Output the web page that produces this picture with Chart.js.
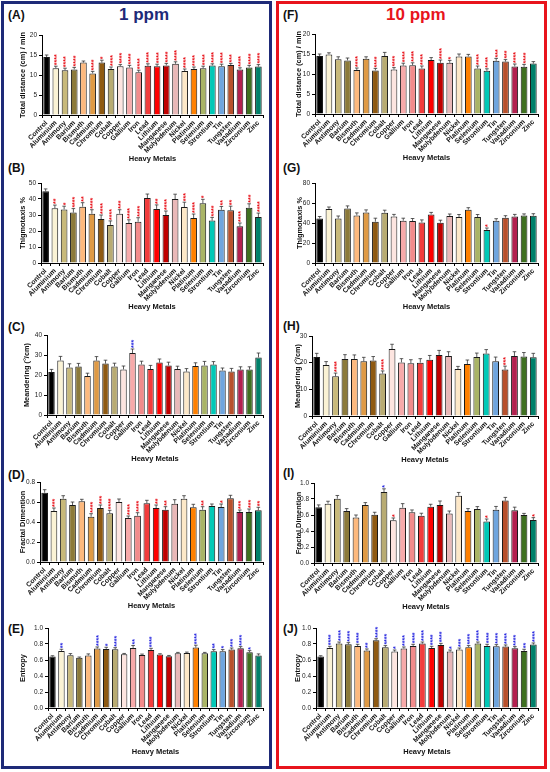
<!DOCTYPE html>
<html>
<head>
<meta charset="utf-8">
<script src="https://cdn.jsdelivr.net/npm/chart.js@4.4.0/dist/chart.umd.min.js"></script>
<style>
  body { margin: 0; width: 550px; height: 772px; position: relative; background: #fff; font-family: "Liberation Sans", Arial, sans-serif; overflow: hidden; }
  .box { position: absolute; top: 1px; height: 762px; width: 265px; border: 3px solid; }
  .head { position: absolute; top: 5px; font-weight: bold; font-size: 17px; }
  .tag { position: absolute; font-weight: bold; font-size: 12px; color: #111; }
  canvas { position: absolute; }
</style>
</head>
<body>
<div class="box" style="left:1px;border-color:#1e2a78"></div>
<div class="box" style="left:276px;border-color:#e8141c"></div>
<div class="head" style="left:119px;color:#1e2a78">1 ppm</div>
<div class="head" style="left:386px;color:#e8141c">10 ppm</div>

<div class="tag" style="left:8px;top:8px">(A)</div>
<div class="tag" style="left:8px;top:161px">(B)</div>
<div class="tag" style="left:8px;top:320px">(C)</div>
<div class="tag" style="left:8px;top:468px">(D)</div>
<div class="tag" style="left:8px;top:622px">(E)</div>
<div class="tag" style="left:283px;top:8px">(F)</div>
<div class="tag" style="left:283px;top:161px">(G)</div>
<div class="tag" style="left:283px;top:319px">(H)</div>
<div class="tag" style="left:283px;top:466px">(I)</div>
<div class="tag" style="left:283px;top:622px">(J)</div>

<canvas id="chartA" width="262" height="134" style="left:6px;top:29px"></canvas>
<canvas id="chartB" width="262" height="134" style="left:6px;top:177px"></canvas>
<canvas id="chartC" width="262" height="134" style="left:6px;top:329px"></canvas>
<canvas id="chartD" width="262" height="134" style="left:6px;top:476px"></canvas>
<canvas id="chartE" width="262" height="134" style="left:6px;top:622px"></canvas>
<canvas id="chartF" width="262" height="134" style="left:281px;top:28px"></canvas>
<canvas id="chartG" width="262" height="134" style="left:281px;top:177px"></canvas>
<canvas id="chartH" width="262" height="134" style="left:281px;top:330px"></canvas>
<canvas id="chartI" width="262" height="134" style="left:281px;top:477px"></canvas>
<canvas id="chartJ" width="262" height="134" style="left:281px;top:622px"></canvas>

<script>
const metals = ['Control', 'Aluminium', 'Antimony', 'Barium', 'Bismuth', 'Cadmium', 'Chromium', 'Cobalt',
    'Copper', 'Gallium', 'Iron', 'Lead', 'Lithium', 'Manganese', 'Molybdenum', 'Nickel', 'Platinum',
    'Selenium', 'Strontium', 'Tin', 'Tungsten', 'Vanadium', 'Zirconium', 'Zinc'];

const barColors = ['#000000', '#fbf3d5', '#c8b97a', '#8c7a3a', '#fdb97e', '#df9a45', '#8f5a12', '#b8ab72',
    '#fde5e0', '#f7aaaa', '#f28b8b', '#f23c3c', '#ff0000', '#c00000', '#e9b8b8', '#fde8c8', '#ff8000',
    '#a9b466', '#00c9b7', '#6fa5de', '#b8502c', '#b3204f', '#3f7020', '#00806a'];

// star counts: negative = decrease (red), positive = increase (blue)
const distance1 = [14.5, 11.7, 11.2, 11.4, 13.1, 10.4, 13.1, 11.5, 12.2, 11.9, 10.7, 12.3, 12.2, 12.4, 12.8, 11.0, 11.5, 11.7, 12.4, 12.2, 12.5, 11.4, 11.9, 12.1];
const distance1Err = [0.5, 0.5, 0.5, 0.5, 0.4, 0.5, 0.6, 0.5, 0.4, 0.5, 0.5, 0.5, 0.5, 0.5, 0.5, 0.5, 0.5, 0.5, 0.4, 0.5, 0.4, 0.4, 0.5, 0.5];
const distance1Stars = [0, -4, -4, -4, 0, -4, -1, -4, -4, -4, -4, -4, -4, -4, -4, -4, -4, -4, -4, -4, -3, -4, -4, -4];

const distance10 = [14.5, 14.9, 13.7, 13.4, 11.0, 13.8, 10.9, 14.5, 11.1, 12.1, 12.2, 11.4, 13.5, 12.8, 12.8, 14.4, 14.4, 11.4, 10.8, 13.3, 13.1, 11.9, 11.8, 12.6];
const distance10Err = [0.5, 0.4, 0.6, 0.6, 0.5, 0.5, 0.5, 0.9, 0.5, 0.6, 0.6, 0.6, 0.6, 0.7, 0.6, 0.6, 0.5, 0.6, 0.5, 0.6, 0.5, 0.6, 0.6, 0.5];
const distance10Stars = [0, 0, 0, 0, -4, 0, -4, 0, -4, -4, -4, -4, 0, -4, -1, 0, 0, -4, -4, -3, -3, -4, -4, 0];

const thigmo1 = [44.8, 34.2, 33.5, 31.5, 35.2, 30.8, 27.5, 23.8, 30.8, 25.0, 25.8, 40.6, 33.8, 30.0, 40.0, 35.0, 28.1, 37.3, 26.5, 33.3, 33.0, 23.0, 34.5, 28.7];
const thigmo1Err = [1.5, 2.0, 2.0, 2.5, 2.5, 2.5, 2.5, 2.5, 2.5, 2.0, 2.5, 2.5, 2.5, 2.5, 3.0, 3.0, 2.5, 2.5, 2.0, 2.0, 2.5, 2.0, 2.5, 2.5];
const thigmo1Stars = [0, -2, -1, -4, -2, -4, -4, -4, -3, -4, -4, 0, -2, -4, 0, -3, -4, -1, -4, -2, -2, -4, -3, -4];

const thigmo10 = [44.5, 54.0, 44.5, 54.6, 47.6, 50.6, 41.3, 50.3, 46.6, 42.3, 42.0, 40.6, 48.6, 40.3, 47.0, 46.0, 53.3, 46.0, 33.0, 42.3, 45.3, 46.6, 47.6, 47.3];
const thigmo10Err = [2, 2, 2.5, 2.5, 2.5, 2.5, 3.5, 2.5, 2, 2.5, 2.5, 2.5, 2, 2.5, 2, 2.5, 2, 2.5, 2, 2, 2, 2, 1.5, 2];
const thigmo10Stars = [0, 0, 0, 0, 0, 0, 0, 0, 0, 0, 0, 0, 0, 0, 0, 0, 0, 0, -1, 0, 0, 0, 0, 0];

const meander1 = [21.5, 27.3, 23.8, 24.2, 19.5, 27.2, 25.7, 24.3, 22.8, 31.0, 25.3, 23.0, 26.2, 24.8, 23.0, 21.7, 24.5, 24.8, 25.2, 22.3, 21.7, 22.7, 22.7, 28.8];
const meander1Err = [1.3, 2.0, 1.8, 1.6, 1.4, 2.0, 1.7, 1.6, 1.7, 2.0, 1.6, 1.8, 1.8, 1.6, 1.4, 1.5, 1.6, 2.0, 1.5, 1.2, 1.6, 1.4, 1.4, 2.2];
const meander1Stars = [0, 0, 0, 0, 0, 0, 0, 0, 0, 3, 0, 0, 0, 0, 0, 0, 0, 0, 0, 0, 0, 0, 0, 0];

const meander10 = [22.1, 19.1, 14.9, 21.4, 21.4, 20.5, 20.8, 15.9, 25.1, 20.1, 19.8, 20.0, 21.1, 22.9, 22.5, 17.6, 19.5, 22.1, 23.4, 20.5, 17.4, 22.5, 22.3, 22.0];
const meander10Err = [1.4, 1.3, 1.2, 1.6, 1.5, 1.5, 1.5, 1.0, 1.8, 1.4, 1.3, 1.5, 1.6, 1.7, 1.6, 1.0, 1.5, 1.5, 1.5, 1.6, 1.3, 1.6, 1.5, 1.5];
const meander10Stars = [0, 0, -4, 0, 0, 0, 0, -4, 0, 0, 0, 0, 0, 0, 0, 0, 0, 0, 0, 0, -3, 0, 0, 0];

const fractal1 = [0.693, 0.51, 0.633, 0.57, 0.607, 0.453, 0.54, 0.487, 0.60, 0.44, 0.463, 0.587, 0.54, 0.523, 0.583, 0.633, 0.547, 0.523, 0.56, 0.55, 0.637, 0.50, 0.50, 0.517];
const fractal1Err = [0.03, 0.03, 0.03, 0.03, 0.02, 0.03, 0.03, 0.03, 0.03, 0.02, 0.03, 0.03, 0.03, 0.03, 0.04, 0.03, 0.03, 0.03, 0.02, 0.03, 0.03, 0.02, 0.03, 0.03];
const fractal1Stars = [0, -3, 0, 0, 0, -4, -3, -4, 0, -4, -4, 0, -2, -2, 0, 0, 0, -2, 0, -1, 0, -3, -3, -2];

const fractal10 = [0.696, 0.742, 0.804, 0.65, 0.57, 0.725, 0.604, 0.887, 0.533, 0.692, 0.633, 0.592, 0.704, 0.725, 0.62, 0.842, 0.65, 0.675, 0.52, 0.667, 0.78, 0.658, 0.60, 0.537];
const fractal10Err = [0.03, 0.03, 0.04, 0.03, 0.03, 0.03, 0.03, 0.04, 0.03, 0.05, 0.03, 0.03, 0.03, 0.05, 0.03, 0.04, 0.03, 0.03, 0.03, 0.04, 0.04, 0.04, 0.02, 0.03];
const fractal10Stars = [0, 0, 0, 0, 0, 0, 0, 1, -1, 0, 0, 0, 0, 0, 0, 0, 0, 0, -1, 0, 0, 0, 0, -1];

const entropy1 = [0.643, 0.714, 0.66, 0.627, 0.656, 0.743, 0.739, 0.734, 0.672, 0.751, 0.664, 0.726, 0.668, 0.647, 0.685, 0.689, 0.755, 0.685, 0.71, 0.71, 0.73, 0.747, 0.697, 0.656];
const entropy1Err = [0.01, 0.02, 0.02, 0.01, 0.02, 0.02, 0.02, 0.02, 0.01, 0.03, 0.01, 0.02, 0.01, 0.01, 0.01, 0.01, 0.03, 0.01, 0.02, 0.02, 0.02, 0.02, 0.02, 0.02];
const entropy1Stars = [0, 2, 0, 0, 0, 4, 1, 4, 0, 2, 0, 4, 0, 0, 0, 0, 4, 0, 2, 1, 3, 4, 1, 0];

const entropy10 = [0.643, 0.751, 0.805, 0.797, 0.776, 0.718, 0.846, 0.76, 0.705, 0.743, 0.776, 0.805, 0.751, 0.788, 0.705, 0.73, 0.76, 0.805, 0.776, 0.772, 0.768, 0.747, 0.714, 0.793];
const entropy10Err = [0.01, 0.02, 0.02, 0.02, 0.02, 0.02, 0.02, 0.02, 0.02, 0.02, 0.02, 0.02, 0.02, 0.02, 0.02, 0.02, 0.02, 0.02, 0.02, 0.02, 0.02, 0.02, 0.02, 0.02];
const entropy10Stars = [0, 4, 4, 4, 4, 2, 4, 4, 1, 4, 4, 4, 4, 4, 1, 3, 4, 4, 4, 4, 4, 4, 2, 4];

const FONT = '"Liberation Sans", Arial, sans-serif';

// error bar caps + significance stars above each bar
const errorBarsPlugin = {
    id: 'errorBars',
    afterDatasetsDraw(chart, args, opts) {
        const ctx = chart.ctx;
        const yScale = chart.scales.y;
        const values = chart.data.datasets[0].data;
        const meta = chart.getDatasetMeta(0);
        ctx.save();
        meta.data.forEach((bar, i) => {
            const yTop = yScale.getPixelForValue(values[i] + opts.errors[i]);
            ctx.strokeStyle = '#333';
            ctx.lineWidth = 0.8;
            ctx.beginPath();
            ctx.moveTo(bar.x, bar.y);
            ctx.lineTo(bar.x, yTop);
            ctx.moveTo(bar.x - 1.8, yTop);
            ctx.lineTo(bar.x + 1.8, yTop);
            ctx.stroke();

            const n = opts.stars[i];
            if (n) {
                ctx.save();
                ctx.fillStyle = n < 0 ? '#e8141c' : '#2b2be0';
                ctx.font = 'bold 7px ' + FONT;
                ctx.textAlign = 'left';
                ctx.textBaseline = 'middle';
                ctx.translate(bar.x, yTop - 1);
                ctx.rotate(-Math.PI / 2);
                ctx.fillText('*'.repeat(Math.abs(n)), 0, 1.5);
                ctx.restore();
            }
        });
        ctx.restore();
    }
};

function makeChart(id, p) {
    new Chart(document.getElementById(id), {
        type: 'bar',
        data: {
            labels: metals,
            datasets: [{
                data: p.values,
                backgroundColor: barColors,
                borderColor: '#1a1a1a',
                borderWidth: 1,
                barPercentage: 0.72,
                categoryPercentage: 1
            }]
        },
        options: {
            responsive: false,
            animation: false,
            layout: { padding: { top: 6, right: 5, left: 0, bottom: 0 } },
            plugins: {
                legend: { display: false },
                tooltip: { enabled: false },
                errorBars: { errors: p.errors, stars: p.stars }
            },
            scales: {
                x: {
                    grid: { drawOnChartArea: false, drawTicks: true, tickLength: 3, color: '#000' },
                    border: { color: '#000', width: 1 },
                    ticks: {
                        autoSkip: false, minRotation: 45, maxRotation: 45, padding: 1,
                        color: '#111', font: { family: FONT, size: 6.9, weight: 'bold' }
                    },
                    title: {
                        display: true, text: 'Heavy Metals', color: '#111',
                        font: { family: FONT, size: 7.5, weight: 'bold' },
                        padding: { top: 0, bottom: 0 }
                    },
                    afterFit(scale) { scale.height = 48; }
                },
                y: {
                    min: 0,
                    max: p.max,
                    grid: { drawOnChartArea: false, drawTicks: true, tickLength: 3, color: '#000' },
                    border: { color: '#000', width: 1 },
                    ticks: {
                        stepSize: p.step, padding: 2, color: '#222',
                        font: { family: FONT, size: 6.5 },
                        callback: v => p.step < 1 ? v.toFixed(1) : v
                    },
                    title: {
                        display: true, text: p.title, color: '#111',
                        font: { family: FONT, size: 7.4, weight: 'bold' },
                        padding: { top: p.titleX - 4.4, bottom: 0 }
                    },
                    afterFit(scale) { scale.width = p.axisW; }
                }
            }
        },
        plugins: [errorBarsPlugin]
    });
}

makeChart('chartA', { values: distance1, errors: distance1Err, stars: distance1Stars, max: 20, step: 5, title: 'Total distance (cm) / min', axisW: 36, titleX: 17 });
makeChart('chartB', { values: thigmo1, errors: thigmo1Err, stars: thigmo1Stars, max: 50, step: 10, title: 'Thigmotaxis %', axisW: 35, titleX: 17 });
makeChart('chartC', { values: meander1, errors: meander1Err, stars: meander1Stars, max: 40, step: 10, title: 'Meandering (°/cm)', axisW: 41, titleX: 21 });
makeChart('chartD', { values: fractal1, errors: fractal1Err, stars: fractal1Stars, max: 0.8, step: 0.2, title: 'Fractal Dimention', axisW: 34, titleX: 17 });
makeChart('chartE', { values: entropy1, errors: entropy1Err, stars: entropy1Stars, max: 1.0, step: 0.2, title: 'Entropy', axisW: 42, titleX: 17 });
makeChart('chartF', { values: distance10, errors: distance10Err, stars: distance10Stars, max: 20, step: 5, title: 'Total distance (cm) / min', axisW: 34, titleX: 18 });
makeChart('chartG', { values: thigmo10, errors: thigmo10Err, stars: thigmo10Stars, max: 80, step: 20, title: 'Thigmotaxis %', axisW: 34, titleX: 19 });
makeChart('chartH', { values: meander10, errors: meander10Err, stars: meander10Stars, max: 30, step: 10, title: 'Meandering (°/cm)', axisW: 31, titleX: 17 });
makeChart('chartI', { values: fractal10, errors: fractal10Err, stars: fractal10Stars, max: 1.0, step: 0.2, title: 'Fractal Dimention', axisW: 33, titleX: 18 });
makeChart('chartJ', { values: entropy10, errors: entropy10Err, stars: entropy10Stars, max: 1.0, step: 0.2, title: 'Entropy', axisW: 35, titleX: 17 });
</script>
</body>
</html>
